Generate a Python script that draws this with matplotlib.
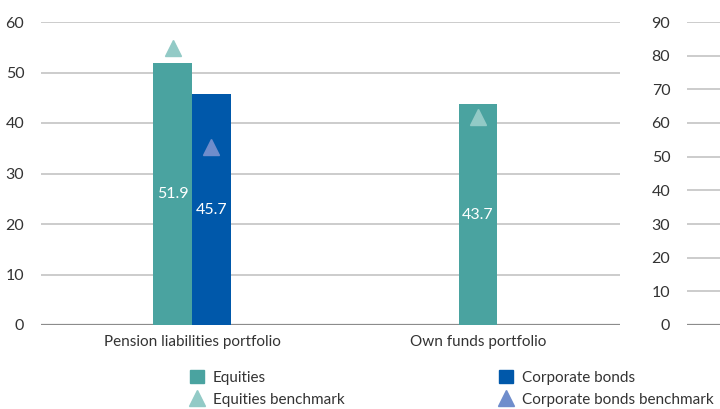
import matplotlib.pyplot as plt
import numpy as np
from matplotlib.lines import Line2D
from matplotlib.patches import Patch

plt.rcParams["font.family"] = ["Lato", "DejaVu Sans"]

categories = ["Pension liabilities portfolio", "Own funds portfolio"]
equities = [51.9, 43.7]
corporate_bonds = [45.7, None]
equities_bench = [54.8, 41.2]
bonds_bench = [35.3, None]

C_EQ = "#4aa3a0"
C_BD = "#0058aa"
C_EQ_B = "#92cac6"
C_BD_B = "#6f8dcc"
GRID = "#c4c4c4"
TXT = "#333333"

W, H = 720, 409
fig = plt.figure(figsize=(W / 100, H / 100), dpi=100)


def frac(x0, y0, x1, y1):
    return [x0 / W, 1 - y1 / H, (x1 - x0) / W, (y1 - y0) / H]


ax = fig.add_axes(frac(41, 22, 620, 325))
ax2 = fig.add_axes(frac(687, 22, 1000, 325))

bw = 0.135
x = np.arange(len(categories))
for i in x:
    has_bond = corporate_bonds[i] is not None
    xe = i - bw / 2 if has_bond else i
    ax.bar(xe, equities[i], width=bw, color=C_EQ, zorder=3)
    ax.text(xe, equities[i] / 2, f"{equities[i]:.1f}", color="white",
            ha="center", va="center", fontsize=11.5, zorder=4)
    ax.plot(xe, equities_bench[i], marker="^", color=C_EQ_B, markersize=11,
            ls="none", zorder=5)
    if has_bond:
        xb = i + bw / 2
        ax.bar(xb, corporate_bonds[i], width=bw, color=C_BD, zorder=3)
        ax.text(xb, corporate_bonds[i] / 2, f"{corporate_bonds[i]:.1f}", color="white",
                ha="center", va="center", fontsize=11.5, zorder=4)
        ax.plot(xb, bonds_bench[i], marker="^", color=C_BD_B, markersize=11,
                ls="none", zorder=5)

ax.set_xlim(-0.528, 1.497)
ax.set_ylim(0, 60)
ax.set_yticks(range(0, 61, 10))
ax.set_xticks(x)
ax.set_xticklabels(categories, fontsize=11, color=TXT)

ax2.set_ylim(0, 90)
ax2.set_xlim(0, 1)
ax2.set_yticks(range(0, 91, 10))
ax2.set_xticks([])

for a in (ax, ax2):
    for s in a.spines.values():
        s.set_visible(False)
    a.grid(axis="y", color=GRID, linewidth=1.2, zorder=0)
    a.axhline(0, color="#8c8c8c", linewidth=1.6, zorder=2)
    a.tick_params(axis="y", length=0, pad=12, labelsize=11.5, labelcolor=TXT)
    a.tick_params(axis="x", length=0, pad=7)

h1 = [Patch(color=C_EQ), Line2D([], [], marker="^", color=C_EQ_B, ls="none", markersize=11)]
h2 = [Patch(color=C_BD), Line2D([], [], marker="^", color=C_BD_B, ls="none", markersize=11)]
leg_kw = dict(frameon=False, fontsize=11, labelcolor=TXT, handlelength=0.9,
              handleheight=0.9, handletextpad=0.6, labelspacing=0.5,
              borderpad=0, borderaxespad=0, loc="upper left")
fig.legend(h1, ["Equities", "Equities benchmark"],
           bbox_to_anchor=(190 / W, 1 - 370 / H), **leg_kw)
fig.legend(h2, ["Corporate bonds", "Corporate bonds benchmark"],
           bbox_to_anchor=(499 / W, 1 - 370 / H), **leg_kw)

fig.savefig("out.png", dpi=100)
